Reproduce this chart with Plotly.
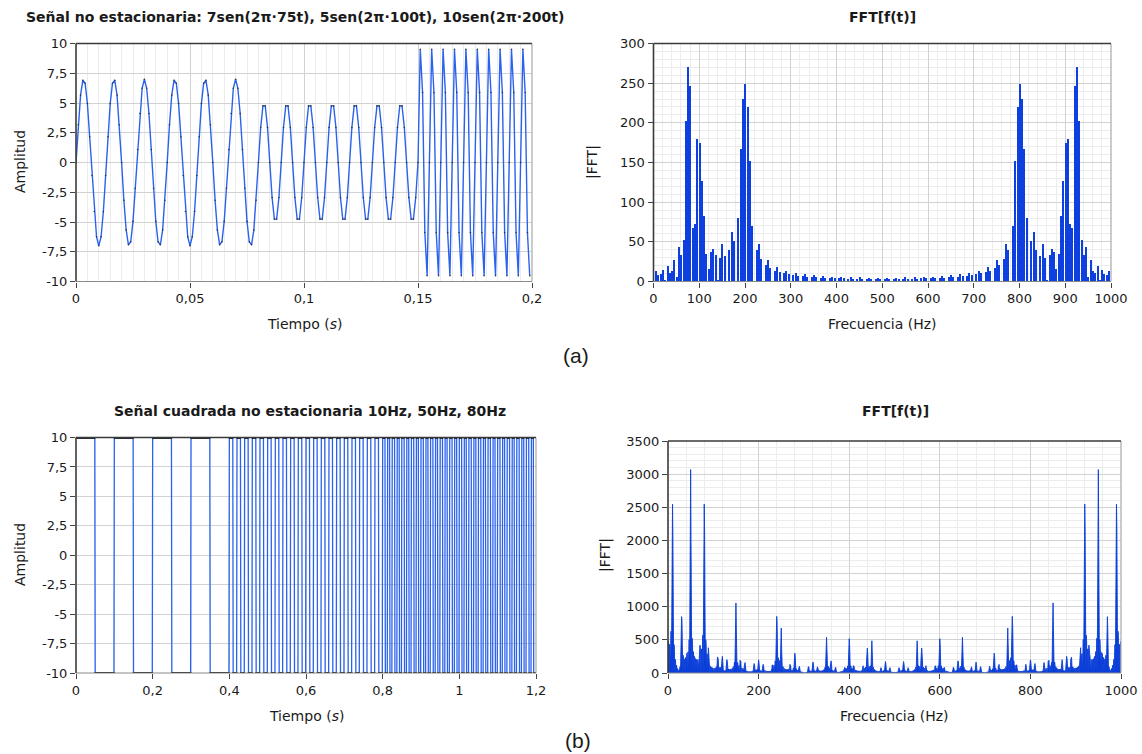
import numpy as np
import plotly.graph_objects as go

# ---------------- data (signal definitions) ----------------
FS = 1000  # samples per second (one sample per ms, 5 Hz / 0.833 Hz FFT bins)

# (a) piecewise sine: 7sen(2pi75t), 5sen(2pi100t), 10sen(2pi200t)
a_amplitudes = [7, 5, 10]
a_freqs_hz = [75, 100, 200]
a_edges_s = [0.0, 0.08, 0.15, 0.20]

# (b) piecewise square wave 10 Hz, 50 Hz, 80 Hz, amplitude 10
b_amplitudes = [10, 10, 10]
b_freqs_hz = [10, 50, 80]
b_edges_s = [0.0, 0.4, 0.8, 1.2]

# tick labels
a_t_tickvals = [0, 0.05, 0.1, 0.15, 0.2]
a_t_ticktext = ["0", "0,05", "0,1", "0,15", "0,2"]
amp_tickvals = [-10, -7.5, -5, -2.5, 0, 2.5, 5, 7.5, 10]
amp_ticktext = ["-10", "-7,5", "-5", "-2,5", "0", "2,5", "5", "7,5", "10"]
a_f_tickvals = [0, 100, 200, 300, 400, 500, 600, 700, 800, 900, 1000]
a_fft_tickvals = [0, 50, 100, 150, 200, 250, 300]
b_t_tickvals = [0, 0.2, 0.4, 0.6, 0.8, 1.0, 1.2]
b_t_ticktext = ["0", "0,2", "0,4", "0,6", "0,8", "1", "1,2"]
b_f_tickvals = [0, 200, 400, 600, 800, 1000]
b_fft_tickvals = [0, 500, 1000, 1500, 2000, 2500, 3000, 3500]


def build_signal(amps, freqs, edges, square=False):
    n = int(round(edges[-1] * FS))
    k = np.arange(n)
    t = k / FS
    y = np.zeros(n)
    for A, f, t0, t1 in zip(amps, freqs, edges[:-1], edges[1:]):
        k0, k1 = int(round(t0 * FS)), int(round(t1 * FS))
        if square:
            phase = np.round(f * k[k0:k1] / FS, 9) % 1.0
            s = np.where(phase < 0.5, 1.0, -1.0)
        else:
            s = np.sin(2 * np.pi * f * t[k0:k1])
        y[k0:k1] = A * s
    return t, y


t_a, y_a = build_signal(a_amplitudes, a_freqs_hz, a_edges_s)
t_b, y_b = build_signal(b_amplitudes, b_freqs_hz, b_edges_s, square=True)
f_a = np.arange(len(y_a)) * FS / len(y_a)
m_a = np.abs(np.fft.fft(y_a))
f_b = np.arange(len(y_b)) * FS / len(y_b)
m_b = np.abs(np.fft.fft(y_b))

# ---------------- layout ----------------
W, H = 1142, 754
FONT = "DejaVu Sans"
TXT = "#1a1a1a"
BLUE_LINE = "#2a62ee"
BLUE_BAR = "#0d40de"
BLUE_FILL = "#0a3ed8"
GRID = "#d2d2d2"
MINOR = "#ececec"

panels = {
    "a_t": (76, 532, 43.5, 281.5),
    "a_f": (653.5, 1111, 43.5, 281.5),
    "b_t": (76, 536, 437.5, 673),
    "b_f": (668, 1121, 441, 673),
}


def dx(p):
    return [p[0] / W, p[1] / W]


def dy(p):
    return [1 - p[3] / H, 1 - p[2] / H]


fig = go.Figure()

fig.add_trace(go.Scatter(
    x=t_a, y=y_a, mode="lines+markers",
    line=dict(color=BLUE_LINE, width=1.4),
    marker=dict(size=1.6, color="#333333"),
    xaxis="x", yaxis="y", showlegend=False, hoverinfo="skip"))

fig.add_trace(go.Bar(
    x=f_a, y=m_a, width=3.0,
    marker=dict(color=BLUE_BAR, line=dict(width=0)),
    xaxis="x2", yaxis="y2", showlegend=False, hoverinfo="skip"))

fig.add_trace(go.Scatter(
    x=t_b, y=y_b, mode="lines+markers",
    line=dict(color=BLUE_LINE, width=1.3),
    marker=dict(size=2, color="#111111"),
    xaxis="x3", yaxis="y3", showlegend=False, hoverinfo="skip"))

fig.add_trace(go.Scatter(
    x=f_b, y=m_b, mode="lines", fill="tozeroy",
    line=dict(color=BLUE_FILL, width=0.9), fillcolor=BLUE_FILL,
    xaxis="x4", yaxis="y4", showlegend=False, hoverinfo="skip"))


def axis(domain, rng, tickvals, ticktext, anchor, minor_dtick=None):
    d = dict(
        domain=domain, range=rng, anchor=anchor, automargin=False,
        tickmode="array", tickvals=tickvals, ticktext=ticktext,
        ticks="outside", ticklen=5, tickwidth=1, tickcolor="#444444",
        showgrid=True, gridcolor=GRID, gridwidth=1,
        zeroline=False, showline=False,
        tickfont=dict(family=FONT, size=13, color=TXT),
        fixedrange=True,
    )
    if minor_dtick:
        d["minor"] = dict(dtick=minor_dtick, tick0=0, showgrid=True,
                          gridcolor=MINOR, gridwidth=1, ticks="")
    return d


p = panels
fig.update_layout(
    width=W, height=H, margin=dict(l=0, r=0, t=0, b=0, autoexpand=False),
    paper_bgcolor="white", plot_bgcolor="white",
    bargap=0,
    xaxis=axis(dx(p["a_t"]), [0, 0.2], a_t_tickvals, a_t_ticktext, "y", minor_dtick=0.005),
    yaxis=axis(dy(p["a_t"]), [-10, 10], amp_tickvals, amp_ticktext, "x"),
    xaxis2=axis(dx(p["a_f"]), [0, 1000], a_f_tickvals, [str(v) for v in a_f_tickvals], "y2", minor_dtick=20),
    yaxis2=axis(dy(p["a_f"]), [0, 300], a_fft_tickvals, [str(v) for v in a_fft_tickvals], "x2", minor_dtick=10),
    xaxis3=axis(dx(p["b_t"]), [0, 1.2], b_t_tickvals, b_t_ticktext, "y3", minor_dtick=0.05),
    yaxis3=axis(dy(p["b_t"]), [-10, 10], amp_tickvals, amp_ticktext, "x3"),
    xaxis4=axis(dx(p["b_f"]), [0, 1000], b_f_tickvals, [str(v) for v in b_f_tickvals], "y4", minor_dtick=40),
    yaxis4=axis(dy(p["b_f"]), [0, 3500], b_fft_tickvals, [str(v) for v in b_fft_tickvals], "x4", minor_dtick=100),
)

# frames: dark left/top, lighter right/bottom
shapes = []
for i, key in enumerate(["a_t", "a_f", "b_t", "b_f"]):
    sfx = "" if i == 0 else str(i + 1)
    xr, yr = "x%s domain" % sfx, "y%s domain" % sfx
    shapes += [
        dict(type="line", xref=xr, yref=yr, x0=1, x1=1, y0=0, y1=1,
             line=dict(color="#a8a8a8", width=1.2), layer="above"),
        dict(type="line", xref=xr, yref=yr, x0=0, x1=1, y0=0, y1=0,
             line=dict(color="#8a8a8a", width=1.2), layer="above"),
        dict(type="line", xref=xr, yref=yr, x0=0, x1=0, y0=0, y1=1,
             line=dict(color="#3a3a3a", width=1.6), layer="above"),
        dict(type="line", xref=xr, yref=yr, x0=0, x1=1, y0=1, y1=1,
             line=dict(color="#3a3a3a", width=1.6), layer="above"),
    ]
fig.update_layout(shapes=shapes)


def ann(text, x, y, size=14, bold=False, angle=0, family=FONT):
    if bold:
        text = "<b>%s</b>" % text
    return dict(text=text, x=x / W, y=1 - y / H, xref="paper", yref="paper",
                showarrow=False, xanchor="center", yanchor="middle",
                textangle=angle, font=dict(family=family, size=size, color=TXT))


annotations = [
    ann("Señal no estacionaria: 7sen(2π·75t), 5sen(2π·100t), 10sen(2π·200t)", 295, 17, bold=True),
    ann("FFT[f(t)]", 882, 17, bold=True),
    ann("Tiempo (<i>s</i>)", 304, 324),
    ann("Frecuencia (Hz)", 882, 324),
    ann("Amplitud", 20, 162, angle=-90),
    ann("|FFT|", 592, 162, angle=-90),
    ann("(a)", 576, 355, size=21, family="Liberation Sans"),
    ann("Señal cuadrada no estacionaria 10Hz, 50Hz, 80Hz", 310, 411, bold=True),
    ann("FFT[f(t)]", 895, 411, bold=True),
    ann("Tiempo (<i>s</i>)", 306, 716),
    ann("Frecuencia (Hz)", 894, 716),
    ann("Amplitud", 20, 555, angle=-90),
    ann("|FFT|", 605, 555, angle=-90),
    ann("(b)", 578, 740, size=21, family="Liberation Sans"),
]
fig.update_layout(annotations=annotations)

fig.write_html("out.html")
